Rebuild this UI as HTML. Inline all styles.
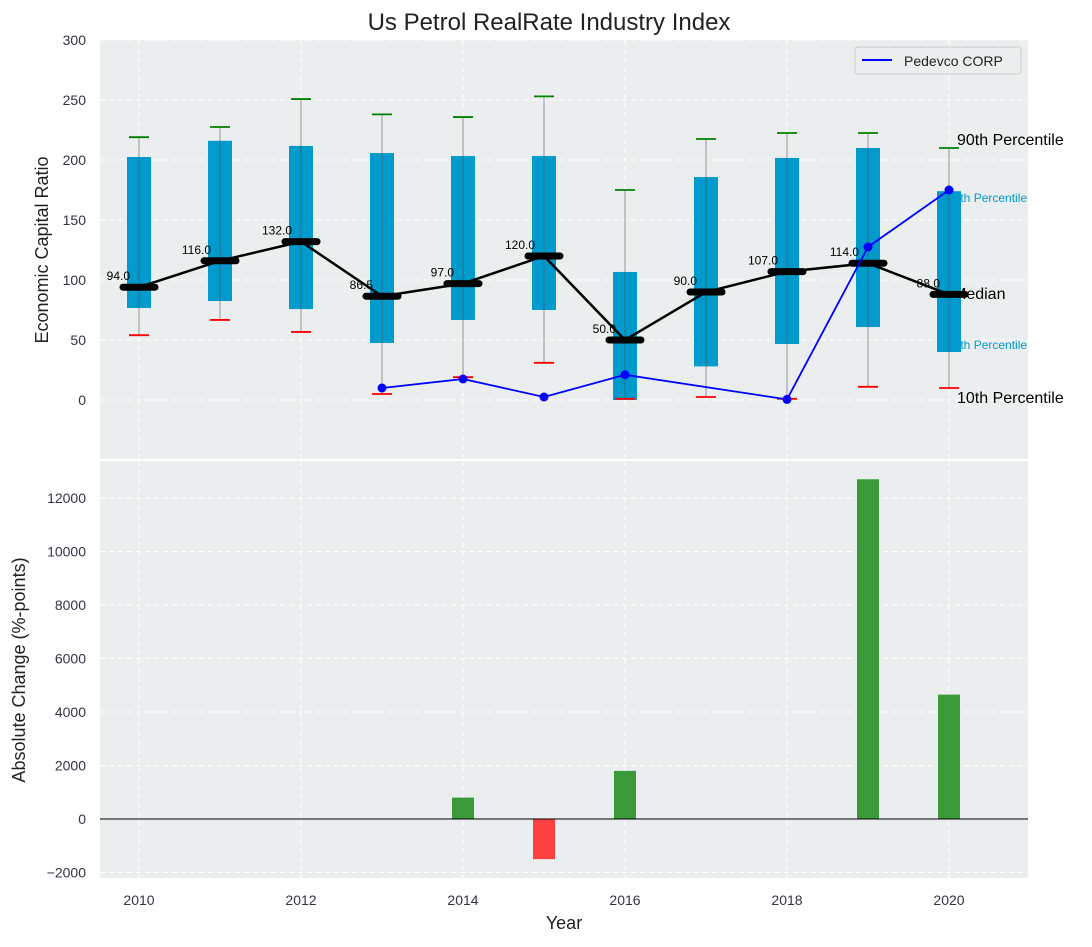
<!DOCTYPE html>
<html><head><meta charset="utf-8"><style>
body{margin:0;background:#fff;}
svg text{font-family:"Liberation Sans","DejaVu Sans",sans-serif;}
</style></head><body>
<svg id="chart" width="1092" height="942" viewBox="0 0 1092 942" xmlns="http://www.w3.org/2000/svg">
<rect x="100" y="40" width="928" height="419" fill="#eaeeef"/>
<rect x="100" y="461" width="928" height="417" fill="#eaeeef"/>
<g id="grid"></g><g id="top"></g><g id="bottom"></g><g id="axes"></g>
<text x="549" y="30" font-size="24" text-anchor="middle" fill="#222">Us Petrol RealRate Industry Index</text>
<text x="48" y="250" font-size="18" text-anchor="middle" fill="#222" transform="rotate(-90 48 250)">Economic Capital Ratio</text>
<text x="25" y="670" font-size="18" text-anchor="middle" fill="#222" transform="rotate(-90 25 670)">Absolute Change (%-points)</text>
<text x="564" y="929" font-size="18" text-anchor="middle" fill="#222">Year</text>
<g>
<rect x="855" y="47" width="166" height="27" fill="#eaeeef" stroke="#ccc" rx="3"/>
<line x1="862" y1="60" x2="892" y2="60" stroke="#0000ff" stroke-width="2"/>
<text x="904" y="66" font-size="14" fill="#222">Pedevco CORP</text>
</g>
</svg>
<script>
const years=[2010,2011,2012,2013,2014,2015,2016,2017,2018,2019,2020];
const p10=[54,66.7,56.7,5,19,31,1,2.5,1,11,10];
const q25=[76.7,82.5,75.8,47.5,66.7,75,0,28,46.7,60.8,40];
const medians=[94,116,132,86.5,97,120,50,90,107,114,88];
const q75=[202.5,216,211.7,205.8,203.3,203.3,106.7,185.8,201.7,210,174];
const p90=[219,227.5,250.8,238,235.8,253,175,217.5,222.5,222.5,210];
const pedYears=[2013,2014,2015,2016,2018,2019,2020];
const pedValues=[10,17.5,2.5,21,0.5,127.5,175];
const changeYears=[2014,2015,2016,2019,2020];
const changeValues=[800,-1500,1800,12700,4650];
const topTicks=[0,50,100,150,200,250,300];
const botTicks=[-2000,0,2000,4000,6000,8000,10000,12000];
const xTicks=[2010,2012,2014,2016,2018,2020];

const NS="http://www.w3.org/2000/svg";
const X=y=>139+(y-2010)*81;
const YT=v=>400-v*1.2;
const YB=v=>819-v*(321/12000);
function mk(p,t,a){const e=document.createElementNS(NS,t);for(const k in a)e.setAttribute(k,a[k]);document.getElementById(p).appendChild(e);return e;}
xTicks.forEach(t=>{
 let g=mk('grid','line',{x1:X(t),x2:X(t),y1:40,y2:459,stroke:'#fff','stroke-dasharray':'5,4'});
 
 g=mk('grid','line',{x1:X(t),x2:X(t),y1:461,y2:878,stroke:'#fff','stroke-dasharray':'5,4'});
 
 const l=mk('axes','text',{x:X(t),y:905,'font-size':14,'text-anchor':'middle',fill:'#334'});l.textContent=t;
 
});
topTicks.forEach(t=>{
 const g=mk('grid','line',{x1:100,x2:1028,y1:YT(t),y2:YT(t),stroke:'#fff','stroke-dasharray':'5,4'});
 
 const l=mk('axes','text',{x:86,y:YT(t)+5,'font-size':14,'text-anchor':'end',fill:'#334'});l.textContent=t;
 
});
botTicks.forEach(t=>{
 const g=mk('grid','line',{x1:100,x2:1028,y1:YB(t),y2:YB(t),stroke:'#fff','stroke-dasharray':'5,4'});
 
 const l=mk('axes','text',{x:86,y:YB(t)+5,'font-size':14,'text-anchor':'end',fill:'#334'});l.textContent=(t<0?'\u2212'+(-t):t);
 
});
const ann=[['90th Percentile',957,145,16,'#000'],['75th Percentile',947,202,12,'#0099cc'],['Median',953,299,16,'#000'],['25th Percentile',947,349,12,'#0099cc'],['10th Percentile',957,403,16,'#000']];
ann.forEach(a=>{const t=mk('top','text',{x:a[1],y:a[2],'font-size':a[3],fill:a[4]});t.textContent=a[0];
 });
years.forEach((y,i)=>{
 const x=X(y);
 let e=mk('top','rect',{x:x-12,y:YT(q75[i]),width:24,height:YT(q25[i])-YT(q75[i]),fill:'#009acd'});
 
 e=mk('top','line',{x1:x,x2:x,y1:YT(p10[i]),y2:YT(p90[i]),stroke:'#555','stroke-opacity':0.6,'stroke-width':1});
 
 e=mk('top','line',{x1:x-10,x2:x+10,y1:YT(p90[i]),y2:YT(p90[i]),stroke:'green','stroke-width':1.8});
 
 e=mk('top','line',{x1:x-10,x2:x+10,y1:YT(p10[i]),y2:YT(p10[i]),stroke:'red','stroke-width':1.8});
 
});
let pl=mk('top','polyline',{points:years.map((y,i)=>X(y)+','+YT(medians[i])).join(' '),fill:'none',stroke:'#000','stroke-width':2.5});

years.forEach((y,i)=>{
 const x=X(y);
 let e=mk('top','line',{x1:x-16,x2:x+16,y1:YT(medians[i]),y2:YT(medians[i]),stroke:'#000','stroke-width':7,'stroke-linecap':'round'});
 
 e=mk('top','text',{x:x-9,y:YT(medians[i])-7,'font-size':12,'text-anchor':'end',fill:'#000'});e.textContent=medians[i].toFixed(1);
 
});
pl=mk('top','polyline',{points:pedYears.map((y,i)=>X(y)+','+YT(pedValues[i])).join(' '),fill:'none',stroke:'#0000ff','stroke-width':1.8});

pedYears.forEach((y,i)=>{const c=mk('top','circle',{cx:X(y),cy:YT(pedValues[i]),r:4.5,fill:'#0000ff'});
 });
changeYears.forEach((y,i)=>{
 const v=changeValues[i];const y0=YB(Math.max(v,0)),y1=YB(Math.min(v,0));
 const r=mk('bottom','rect',{x:X(y)-11,y:y0,width:22,height:y1-y0,fill:v>=0?'#3a9a3a':'#ff4040'});
 
});
const z=mk('bottom','line',{x1:100,x2:1028,y1:YB(0),y2:YB(0),stroke:'#000','stroke-width':1});

</script>
</body></html>
